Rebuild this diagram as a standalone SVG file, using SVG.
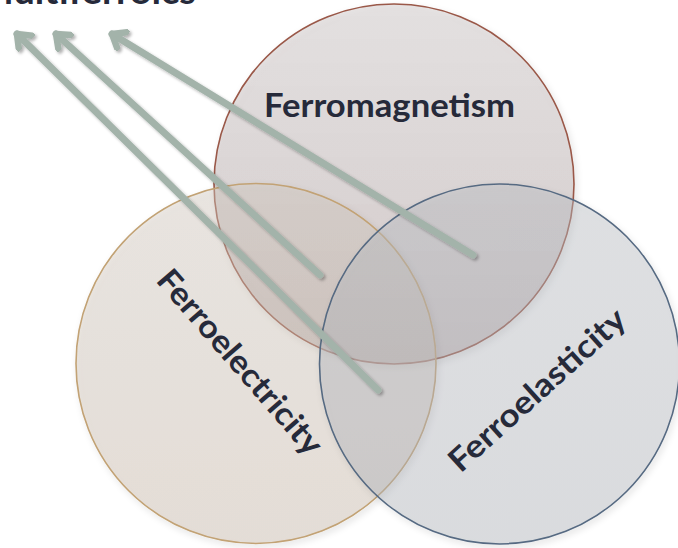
<svg xmlns="http://www.w3.org/2000/svg" width="678" height="548" viewBox="0 0 678 548">
<style>
.lbl{font-family:Lato,"Open Sans","Liberation Sans",sans-serif;font-weight:bold;fill:#262a3a;}
.ring{stroke-width:1.6;}
.arr{fill:none;stroke:#a3b3aa;stroke-width:7;stroke-linecap:round;stroke-linejoin:round;}
</style>
<defs>
<filter id="sh" x="-20%" y="-20%" width="140%" height="140%">
<feDropShadow dx="2" dy="3" stdDeviation="3" flood-color="#000" flood-opacity="0.16"/>
</filter>
<filter id="ash" x="-20%" y="-20%" width="140%" height="140%">
<feDropShadow dx="2" dy="2" stdDeviation="1.5" flood-color="#000" flood-opacity="0.3"/>
</filter>
<linearGradient id="gT" x1="0" y1="0" x2="0" y2="1">
<stop offset="0" stop-color="#c8c0c0" stop-opacity="0.4"/>
<stop offset="1" stop-color="#a89696" stop-opacity="0.46"/>
</linearGradient>
<linearGradient id="gL" x1="0" y1="0" x2="0" y2="1">
<stop offset="0" stop-color="#d3cac0" stop-opacity="0.4"/>
<stop offset="1" stop-color="#c8b8a8" stop-opacity="0.4"/>
</linearGradient>
<linearGradient id="gR" x1="0" y1="0" x2="0" y2="1">
<stop offset="0" stop-color="#bcbfc5" stop-opacity="0.4"/>
<stop offset="1" stop-color="#b0b4bb" stop-opacity="0.4"/>
</linearGradient>
<marker id="head" viewBox="-14 -12 18 24" markerWidth="18" markerHeight="24" refX="0" refY="0" orient="auto" markerUnits="userSpaceOnUse">
<polyline points="-12,-9.5 0,0 -12,9.5" fill="none" stroke="#a3b3aa" stroke-width="6.5" stroke-linecap="round" stroke-linejoin="round"/>
</marker>
</defs>
<rect width="678" height="548" fill="#ffffff"/>
<text class="lbl" x="-22" y="4" font-size="36" textLength="218" lengthAdjust="spacingAndGlyphs">Multiferroics</text>
<g id="ferromagnetism" filter="url(#sh)">
<circle cx="394" cy="184" r="180" fill="url(#gT)" stroke="#9a5848" class="ring"/>
</g>
<g id="ferroelectricity" filter="url(#sh)">
<circle cx="256" cy="363.5" r="180" fill="url(#gL)" stroke="#c2a274" class="ring"/>
</g>
<g id="ferroelasticity" filter="url(#sh)">
<circle cx="499.5" cy="364" r="180" fill="url(#gR)" stroke="#566a82" class="ring"/>
</g>
<g id="connectors" filter="url(#ash)">
<line class="arr" x1="378" y1="390" x2="17" y2="34" marker-end="url(#head)"/>
<line class="arr" x1="320" y1="275" x2="56" y2="34" marker-end="url(#head)"/>
<line class="arr" x1="473" y1="255" x2="112" y2="34" marker-end="url(#head)"/>
</g>
<g id="labels">
<text class="lbl" x="389.5" y="117" font-size="32" text-anchor="middle" textLength="251" lengthAdjust="spacingAndGlyphs">Ferromagnetism</text>
<text class="lbl" font-size="32" text-anchor="middle" textLength="234" lengthAdjust="spacingAndGlyphs" transform="translate(240,362) rotate(49)" x="0" y="11">Ferroelectricity</text>
<text class="lbl" font-size="32" text-anchor="middle" textLength="226" lengthAdjust="spacingAndGlyphs" transform="translate(537,390) rotate(-42)" x="0" y="11">Ferroelasticity</text>
</g>
</svg>
